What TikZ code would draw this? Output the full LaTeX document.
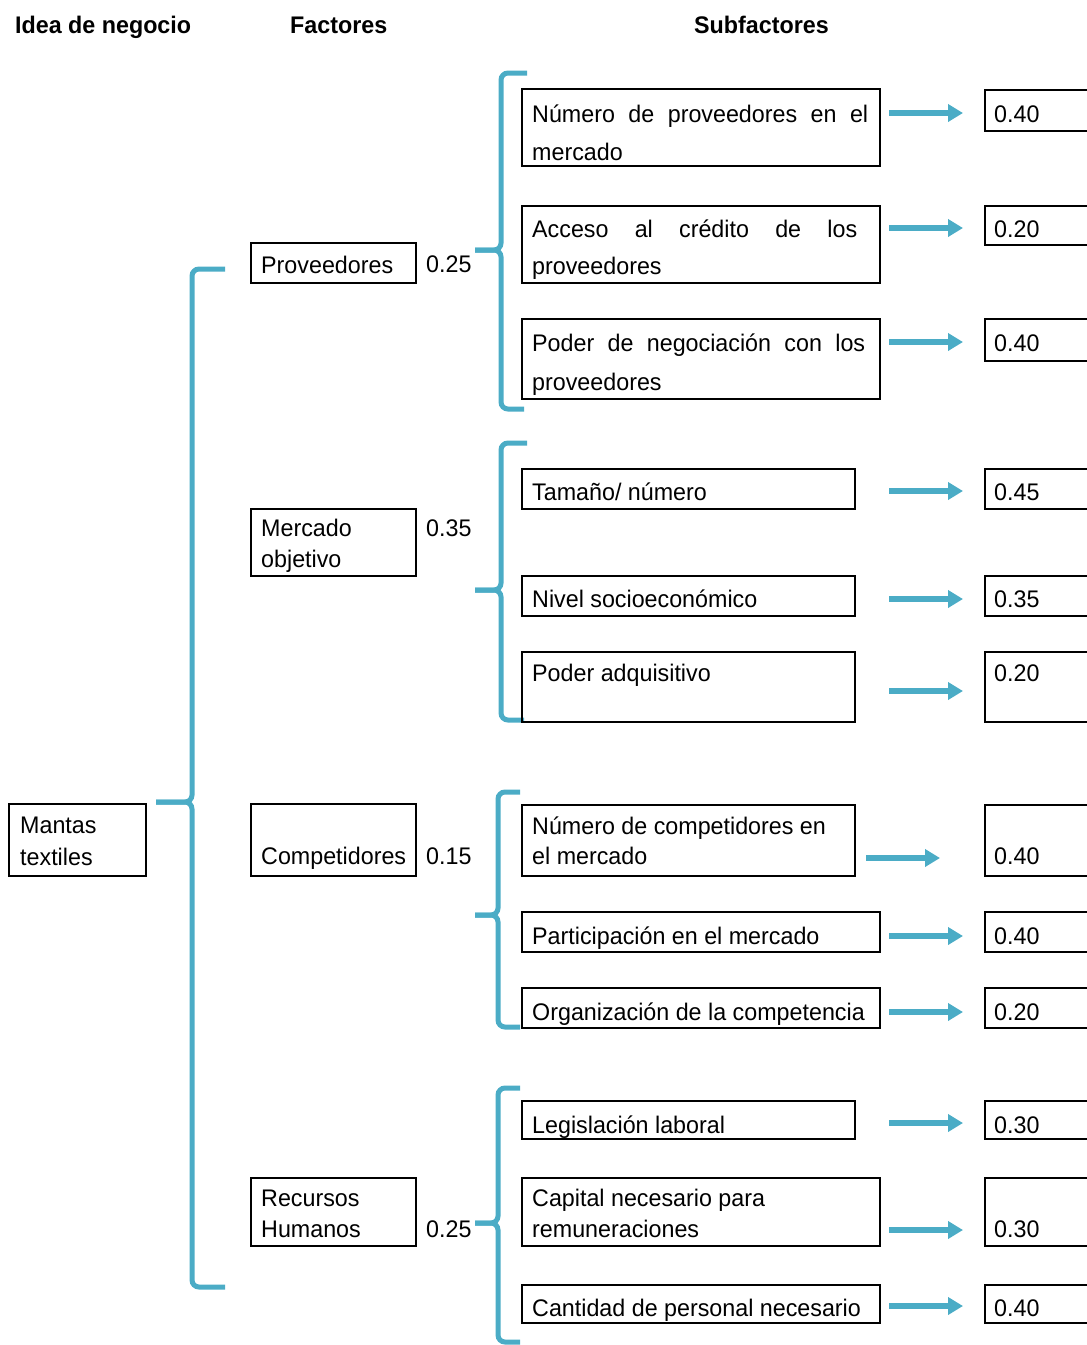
\documentclass[tikz,border=0pt]{standalone}
\usepackage{fontspec}
\setmainfont{Liberation Sans}[FakeStretch=0.97]
\usetikzlibrary{arrows.meta}
\definecolor{tealb}{HTML}{4BACC6}
\begin{document}
\begin{tikzpicture}[x=1pt,y=-1pt,
  box/.style={draw,line width=2pt,anchor=north west,inner sep=0pt,outer sep=0pt},
  txt/.style={anchor=base west,inner sep=0pt,font=\fontsize{24}{30}\selectfont},
  hdr/.style={anchor=base west,inner sep=0pt,font=\fontsize{24}{30}\selectfont\bfseries},
  brc/.style={draw=tealb,line width=5pt,rounded corners=7pt},
  arr/.style={draw=tealb,line width=5.5pt,-{Triangle[length=15pt,width=17pt]}}]
\useasboundingbox (0,0) rectangle (1087,1345);
\clip (0,0) rectangle (1087,1345);
% headers
\node[hdr] (h1) at (15,33) {Idea de negocio};
\node[hdr] (h2) at (290,33) {Factores};
\node[hdr] (h3) at (694,33) {Subfactores};
% idea
\node[box,minimum width=137pt,minimum height=72pt] (mt) at (9,804) {};
\node[txt] (mta) at (20,833) {Mantas};
\node[txt] (mtb) at (20,865) {textiles};
% factors
\node[box,minimum width=165pt,minimum height=40pt] (f1) at (251,243) {};
\node[txt] (f1a) at (261,273) {Proveedores};
\node[txt] (w1) at (426,272) {0.25};
\node[box,minimum width=165pt,minimum height=67pt] (f2) at (251,509) {};
\node[txt] (f2a) at (261,536) {Mercado};
\node[txt] (f2b) at (261,567) {objetivo};
\node[txt] (w2) at (426,536) {0.35};
\node[box,minimum width=165pt,minimum height=72pt] (f3) at (251,804) {};
\node[txt] (f3a) at (261,864) {Competidores};
\node[txt] (w3) at (426,864) {0.15};
\node[box,minimum width=165pt,minimum height=68pt] (f4) at (251,1178) {};
\node[txt] (f4a) at (261,1206) {Recursos};
\node[txt] (f4b) at (261,1237) {Humanos};
\node[txt] (w4) at (426,1237) {0.25};
% big brace
\draw[brc] (225,269) -- (192,269) -- (192,802) -- (156,802);
\draw[brc] (156,802) -- (192,802) -- (192,1287) -- (225,1287);
% sub braces
\draw[brc] (527,73) -- (501,73) -- (501,250) -- (475,250);
\draw[brc] (475,250) -- (501,250) -- (501,409) -- (524,409);
\draw[brc] (527,443) -- (501,443) -- (501,590) -- (475,590);
\draw[brc] (475,590) -- (501,590) -- (501,720) -- (524,720);
\draw[brc] (520,792) -- (498,792) -- (498,915) -- (475,915);
\draw[brc] (475,915) -- (498,915) -- (498,1027) -- (520,1027);
\draw[brc] (520,1088) -- (498,1088) -- (498,1223) -- (475,1223);
\draw[brc] (475,1223) -- (498,1223) -- (498,1342) -- (520,1342);
% subfactors
\node[box,minimum width=358pt,minimum height=77pt] (s1) at (522,89) {};
\node[txt] (s1a) at (532,122) {\makebox[336pt][s]{Número de proveedores en el}};
\node[txt] (s1b) at (532,160) {mercado};
\node[box,minimum width=358pt,minimum height=77pt] (s2) at (522,206) {};
\node[txt] (s2a) at (532,237) {\makebox[325pt][s]{Acceso al crédito de los}};
\node[txt] (s2b) at (532,274) {proveedores};
\node[box,minimum width=358pt,minimum height=80pt] (s3) at (522,319) {};
\node[txt] (s3a) at (532,351) {\makebox[333pt][s]{Poder de negociación con los}};
\node[txt] (s3b) at (532,390) {proveedores};
\node[box,minimum width=333pt,minimum height=40pt] (s4) at (522,469) {};
\node[txt] (s4a) at (532,500) {Tamaño/ número};
\node[box,minimum width=333pt,minimum height=40pt] (s5) at (522,576) {};
\node[txt] (s5a) at (532,607) {Nivel socioeconómico};
\node[box,minimum width=333pt,minimum height=70pt] (s6) at (522,652) {};
\node[txt] (s6a) at (532,681) {Poder adquisitivo};
\node[box,minimum width=333pt,minimum height=71pt] (s7) at (522,805) {};
\node[txt] (s7a) at (532,834) {Número de competidores en};
\node[txt] (s7b) at (532,864) {el mercado};
\node[box,minimum width=358pt,minimum height=40pt] (s8) at (522,912) {};
\node[txt] (s8a) at (532,944) {Participación en el mercado};
\node[box,minimum width=358pt,minimum height=40pt] (s9) at (522,988) {};
\node[txt] (s9a) at (532,1020) {Organización de la competencia};
\node[box,minimum width=333pt,minimum height=38pt] (s10) at (522,1101) {};
\node[txt] (s10a) at (532,1133) {Legislación laboral};
\node[box,minimum width=358pt,minimum height=68pt] (s11) at (522,1178) {};
\node[txt] (s11a) at (532,1206) {Capital necesario para};
\node[txt] (s11b) at (532,1237) {remuneraciones};
\node[box,minimum width=358pt,minimum height=38pt] (s12) at (522,1285) {};
\node[txt] (s12a) at (532,1316) {Cantidad de personal necesario};
% values
\node[box,minimum width=130pt,minimum height=41pt] (v1) at (985,90) {};
\node[txt] (v1a) at (994,122) {0.40};
\node[box,minimum width=130pt,minimum height=39pt] (v2) at (985,206) {};
\node[txt] (v2a) at (994,237) {0.20};
\node[box,minimum width=130pt,minimum height=42pt] (v3) at (985,319) {};
\node[txt] (v3a) at (994,351) {0.40};
\node[box,minimum width=130pt,minimum height=40pt] (v4) at (985,469) {};
\node[txt] (v4a) at (994,500) {0.45};
\node[box,minimum width=130pt,minimum height=40pt] (v5) at (985,576) {};
\node[txt] (v5a) at (994,607) {0.35};
\node[box,minimum width=130pt,minimum height=70pt] (v6) at (985,652) {};
\node[txt] (v6a) at (994,681) {0.20};
\node[box,minimum width=130pt,minimum height=71pt] (v7) at (985,805) {};
\node[txt] (v7a) at (994,864) {0.40};
\node[box,minimum width=130pt,minimum height=40pt] (v8) at (985,912) {};
\node[txt] (v8a) at (994,944) {0.40};
\node[box,minimum width=130pt,minimum height=40pt] (v9) at (985,988) {};
\node[txt] (v9a) at (994,1020) {0.20};
\node[box,minimum width=130pt,minimum height=38pt] (v10) at (985,1101) {};
\node[txt] (v10a) at (994,1133) {0.30};
\node[box,minimum width=130pt,minimum height=68pt] (v11) at (985,1178) {};
\node[txt] (v11a) at (994,1237) {0.30};
\node[box,minimum width=130pt,minimum height=38pt] (v12) at (985,1285) {};
\node[txt] (v12a) at (994,1316) {0.40};
% arrows
\foreach \i/\y in {1/113,2/228,3/342,4/491,5/599,6/691,8/936,9/1012,10/1123,11/1230,12/1306}{
  \coordinate (as\i) at (889,\y);
  \coordinate (ae\i) at (963,\y);
  \draw[arr] (as\i) -- (ae\i);
}
\coordinate (as7) at (866,858);
\coordinate (ae7) at (940,858);
\draw[arr] (as7) -- (ae7);
\end{tikzpicture}
\end{document}
